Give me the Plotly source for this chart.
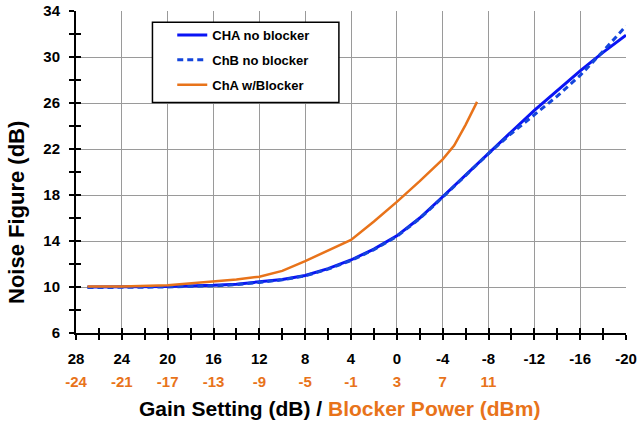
import plotly.graph_objects as go

# Gain setting (dB) for each measurement
gain = [27, 24, 20, 16, 14, 12, 10, 8, 6, 4, 2, 0, -2, -4, -6, -8, -10, -12, -14, -16, -18, -20]
nf_cha = [10.0, 10.0, 10.05, 10.15, 10.25, 10.45, 10.65, 11.0, 11.6, 12.35, 13.3, 14.45,
          16.0, 17.85, 19.75, 21.65, 23.5, 25.35, 27.1, 28.8, 30.4, 31.9]
nf_chb = [9.95, 9.95, 10.0, 10.1, 10.2, 10.4, 10.62, 10.97, 11.55, 12.3, 13.25, 14.4,
          15.95, 17.8, 19.7, 21.6, 23.35, 24.95, 26.6, 28.4, 30.5, 32.7]

gain_blk = [27, 24, 20, 16, 14, 12, 10, 8, 6, 4, 2, 0, -2, -4, -5, -6, -7]
nf_blk = [10.05, 10.05, 10.15, 10.45, 10.65, 10.9, 11.4, 12.25, 13.15, 14.1, 15.7, 17.4,
          19.2, 21.1, 22.3, 24.1, 26.1]

# Axis ticks: gain setting and the corresponding blocker power
gain_ticks = [28, 24, 20, 16, 12, 8, 4, 0, -4, -8, -12, -16, -20]
blk_tick_pos = [28, 24, 20, 16, 12, 8, 4, 0, -4, -8]
blk_tick_text = ["-24", "-21", "-17", "-13", "-9", "-5", "-1", "3", "7", "11"]
nf_ticks = [6, 10, 14, 18, 22, 26, 30, 34]

BLUE = "#0A14F5"
BLUE_D = "#1446DC"
ORANGE = "#E8731A"
FONT = "Liberation Sans, Arial, sans-serif"

fig = go.Figure()
fig.add_trace(go.Scatter(x=gain, y=nf_cha, mode="lines", name="<b>CHA no blocker</b>",
                         line=dict(color=BLUE, width=3), legendgroup="a"))
fig.add_trace(go.Scatter(x=gain, y=nf_chb, mode="lines", name="<b>ChB no blocker</b>",
                         line=dict(color=BLUE_D, width=3, dash="6px,4px"), legendgroup="b"))
fig.add_trace(go.Scatter(x=gain_blk, y=nf_blk, mode="lines", name="<b>ChA w/Blocker</b>",
                         line=dict(color=ORANGE, width=2.5), legendgroup="c"))
# helper traces so the overlay axes (inner ticks, blocker labels) are drawn
fig.add_trace(go.Scatter(x=[None], y=[None], xaxis="x2", yaxis="y2", showlegend=False, hoverinfo="skip"))
fig.add_trace(go.Scatter(x=[None], y=[None], xaxis="x3", yaxis="y", showlegend=False, hoverinfo="skip"))

x_range = [28, -20]
y_range = [6, 34]
tickfont = dict(family=FONT, size=15, color="black")
tick_style = dict(ticklen=5, tickwidth=2, tickcolor="black")

fig.update_layout(
    width=639, height=423,
    margin=dict(l=76, r=13, t=11, b=90, autoexpand=False),
    paper_bgcolor="white", plot_bgcolor="white",
    font=dict(family=FONT, color="black"),
    xaxis=dict(
        range=x_range, tickmode="array", tickvals=gain_ticks,
        ticktext=["<b>%d</b>" % t for t in gain_ticks],
        showgrid=True, gridcolor="#9A9A9A", gridwidth=1,
        showline=True, linecolor="black", linewidth=2,
        ticks="outside", **tick_style,
        minor=dict(dtick=2, tick0=0, ticks="outside", showgrid=False, **tick_style),
        tickfont=tickfont, zeroline=False, automargin=False, ticklabelstandoff=6,
    ),
    yaxis=dict(
        range=y_range, tickmode="array", tickvals=nf_ticks,
        ticktext=["<b>%d</b>" % t for t in nf_ticks],
        showgrid=True, gridcolor="#9A9A9A", gridwidth=1,
        showline=True, linecolor="black", linewidth=2,
        ticks="outside", **tick_style,
        minor=dict(dtick=2, tick0=0, ticks="outside", showgrid=False, **tick_style),
        tickfont=tickfont, zeroline=False, automargin=False, ticklabelstandoff=6,
    ),
    xaxis2=dict(
        range=x_range, overlaying="x", anchor="y2", side="bottom",
        tickmode="linear", tick0=0, dtick=2, ticks="inside", **tick_style,
        showticklabels=False, showgrid=False, showline=False, zeroline=False,
    ),
    yaxis2=dict(
        range=y_range, overlaying="y", anchor="x2", side="left",
        tickmode="linear", tick0=0, dtick=2, ticks="inside", **tick_style,
        showticklabels=False, showgrid=False, showline=False, zeroline=False,
    ),
    xaxis3=dict(
        range=x_range, overlaying="x", anchor="y", side="bottom",
        tickmode="array", tickvals=blk_tick_pos, ticktext=["<b>%s</b>" % t for t in blk_tick_text],
        ticks="", showgrid=False, showline=False, zeroline=False, automargin=False,
        tickfont=dict(family=FONT, size=15, color=ORANGE), ticklabelstandoff=38,
    ),
    legend=dict(
        x=0.175, y=0.972, xanchor="left", yanchor="top",
        bgcolor="rgba(0,0,0,0)", borderwidth=0,
        font=dict(family=FONT, size=13, color="black"),
        tracegroupgap=5, itemwidth=30,
    ),
    shapes=[dict(type="rect", xref="paper", yref="paper", layer="above",
                 x0=0.139, x1=0.478, y0=0.716, y1=0.965,
                 fillcolor="white", line=dict(color="black", width=1.5))],
    annotations=[
        dict(text="<b>Gain Setting (dB) / <span style='color:%s'>Blocker Power (dBm)</span></b>" % ORANGE,
             xref="paper", yref="paper", x=(339 - 76) / 550, y=-(408 - 333) / 322,
             xanchor="center", yanchor="middle", showarrow=False,
             font=dict(family=FONT, size=21, color="black")),
        dict(text="<b>Noise Figure (dB)</b>", textangle=-90,
             xref="paper", yref="paper", x=-(76 - 16) / 550, y=(333 - 213) / 322,
             xanchor="center", yanchor="middle", showarrow=False,
             font=dict(family=FONT, size=22, color="black")),
    ],
)

fig.write_html("out.html")
